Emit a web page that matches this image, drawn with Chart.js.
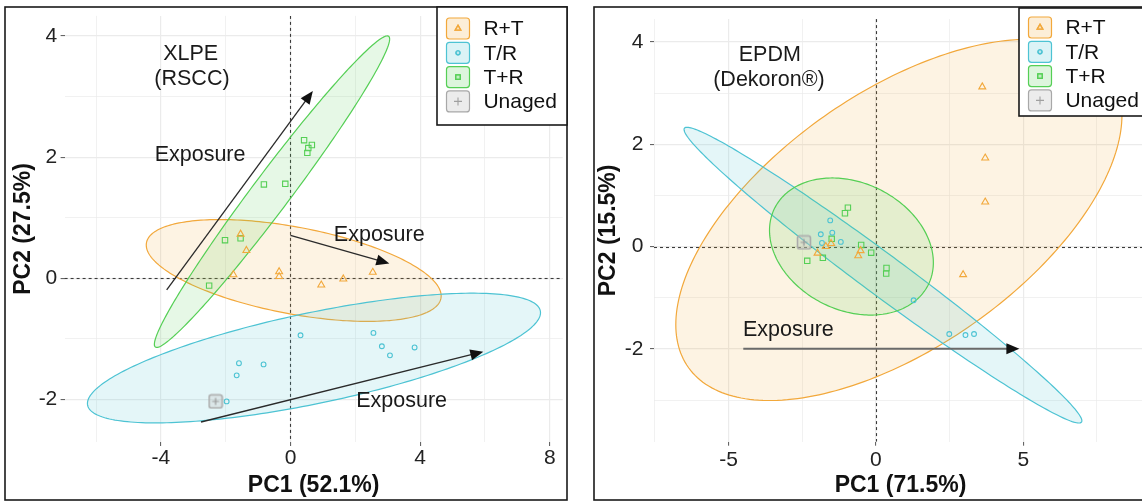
<!DOCTYPE html>
<html>
<head>
<meta charset="utf-8">
<script src="https://cdn.jsdelivr.net/npm/chart.js@4.4.1/dist/chart.umd.min.js"></script>
<style>
  html, body { margin: 0; padding: 0; background: #fff; overflow: hidden; width: 1142px; height: 502px; }
  canvas { position: absolute; top: 0; }
  #xlpe { left: 0; }
  #epdm { left: 588px; }
</style>
</head>
<body>
<canvas id="xlpe" width="572" height="502"></canvas>
<canvas id="epdm" width="572" height="502"></canvas>
<script>
// ---------- groups ----------
const GROUPS = ['R+T', 'T/R', 'T+R', 'Unaged'];

// ---------- XLPE (RSCC): PCA scores [PC1, PC2] ----------
const xlpeRT     = [[-1.54, 0.73], [-1.36, 0.46], [-1.76, 0.06], [-0.35, 0.11], [-0.35, 0.03], [0.95, -0.11], [1.63, -0.01], [2.54, 0.10]];
const xlpeTslR   = [[0.31, -0.94], [2.56, -0.90], [2.82, -1.12], [3.07, -1.27], [3.83, -1.14], [-1.59, -1.40], [-0.83, -1.42], [-1.66, -1.60], [-1.97, -2.03]];
const xlpeTR     = [[0.42, 2.28], [0.66, 2.20], [0.55, 2.15], [0.52, 2.07], [-0.82, 1.55], [-0.16, 1.56], [-2.02, 0.63], [-1.54, 0.66], [-2.51, -0.12]];
const xlpeUnaged = [[-2.31, -2.03]];
// concentration ellipses: [centre PC1, centre PC2, half-range PC1, half-range PC2, correlation]
const xlpeEllRT   = [0.10, 0.13, 4.55, 0.84, -0.50];
const xlpeEllTslR = [0.725, -1.315, 6.99, 1.07, 0.70];
const xlpeEllTR   = [-0.57, 1.43, 3.63, 2.57, 0.98];
// exposure arrows: [from PC1, from PC2, to PC1, to PC2]
const xlpeArrows = [[-3.82, -0.19, 0.69, 3.09], [0.0, 0.71, 3.05, 0.245], [-2.76, -2.37, 5.95, -1.21]];
const xlpeNotes  = [['XLPE', -3.08, 3.70], ['(RSCC)', -3.04, 3.29], ['Exposure', -2.79, 2.03], ['Exposure', 2.74, 0.72], ['Exposure', 3.43, -2.03]];
const xlpeXRange = [-6.97, 8.4];
const xlpeYRange = [-2.70, 4.33];

// ---------- EPDM (Dekoron®) ----------
const epdmRT     = [[3.61, 3.12], [3.71, 1.73], [3.71, 0.87], [2.96, -0.55], [-1.98, -0.13], [-1.70, 0.0], [-1.52, 0.06], [-0.60, -0.18], [-0.52, -0.08]];
const epdmTslR   = [[-1.55, 0.51], [-1.87, 0.24], [-1.48, 0.27], [-1.83, 0.07], [-1.19, 0.09], [1.28, -1.05], [2.49, -1.71], [3.04, -1.73], [3.33, -1.71]];
const epdmTR     = [[-0.95, 0.76], [-1.05, 0.65], [-1.50, 0.15], [-0.50, 0.03], [-0.16, -0.12], [-1.80, -0.22], [-2.33, -0.28], [0.36, -0.42], [0.35, -0.53]];
const epdmUnaged = [[-2.44, 0.08]];
const epdmEllRT   = [0.78, 0.52, 7.57, 3.53, 0.58];
const epdmEllTslR = [0.24, -0.56, 6.75, 2.89, -0.985];
const epdmEllTR   = [-0.83, 0.0, 2.78, 1.34, -0.235];
const epdmArrows = [[-4.5, -2.0, 4.87, -2.0]];
const epdmNotes  = [['EPDM', -3.60, 3.75], ['(Dekoron®)', -3.63, 3.25], ['Exposure', -2.97, -1.64]];
const epdmXRange = [-7.53, 9.2];
const epdmYRange = [-3.815, 4.445];

// ---------- styling ----------
const FONT = '"Liberation Sans", Arial, sans-serif';
const STYLE = {
  'R+T':    { line: '#F2A83B', fill: 'rgba(242,168,59,0.14)', key: 'rgba(242,168,59,0.20)', shape: 'triangle', r: 4 },
  'T/R':    { line: '#4DC3D3', fill: 'rgba(77,195,211,0.15)', key: 'rgba(77,195,211,0.20)', shape: 'circle', r: 2.4 },
  'T+R':    { line: '#55CF55', fill: 'rgba(85,207,85,0.15)',  key: 'rgba(85,207,85,0.20)',  shape: 'rect', r: 3.8 },
  'Unaged': { line: '#A8A8A8', fill: 'rgba(200,200,200,0.3)', key: 'rgba(200,200,200,0.35)', shape: null, r: 7 }
};

function unagedMarker() {
  const c = document.createElement('canvas');
  c.width = 16; c.height = 16;
  const g = c.getContext('2d');
  g.fillStyle = 'rgba(200,200,200,0.35)';
  g.strokeStyle = '#ABABAB';
  g.lineWidth = 1.6;
  g.beginPath(); g.roundRect(1.5, 1.5, 13, 13, 2); g.fill(); g.stroke();
  g.strokeStyle = '#9A9A9A'; g.lineWidth = 1.2;
  g.beginPath(); g.moveTo(8, 4.5); g.lineTo(8, 11.5); g.moveTo(4.5, 8); g.lineTo(11.5, 8); g.stroke();
  return c;
}
const UNAGED_IMG = unagedMarker();

function toPoints(arr) { return arr.map(p => ({ x: p[0], y: p[1] })); }

function makeDatasets(series) {
  return GROUPS.map((g, i) => {
    const s = STYLE[g];
    return {
      label: g,
      data: toPoints(series[i]),
      pointStyle: g === 'Unaged' ? UNAGED_IMG : s.shape,
      pointRadius: s.r,
      pointBorderWidth: 1.1,
      borderColor: s.line,
      backgroundColor: 'rgba(0,0,0,0)',
      showLine: false
    };
  });
}

// ---------- plugins ----------
function ellipsePath(ctx, xs, ys, e) {
  const [cx, cy, rx, ry, rho] = e;
  const s = Math.sqrt(1 - rho * rho);
  ctx.beginPath();
  for (let i = 0; i <= 240; i++) {
    const t = i / 240 * Math.PI * 2;
    const x = cx + rx * Math.cos(t);
    const y = cy + ry * (rho * Math.cos(t) + s * Math.sin(t));
    const px = xs.getPixelForValue(x), py = ys.getPixelForValue(y);
    if (i === 0) ctx.moveTo(px, py); else ctx.lineTo(px, py);
  }
  ctx.closePath();
}

const underlayPlugin = {
  id: 'underlay',
  beforeDatasetsDraw(chart, args, opts) {
    const { ctx, chartArea: a, scales: { x, y } } = chart;
    ctx.save();
    ctx.beginPath(); ctx.rect(a.left, a.top, a.right - a.left, a.bottom - a.top); ctx.clip();
    // zero reference lines
    ctx.strokeStyle = '#3a3a3a'; ctx.lineWidth = 1.1; ctx.setLineDash([3, 3]);
    const x0 = Math.round(x.getPixelForValue(0)) + 0.5, y0 = Math.round(y.getPixelForValue(0)) + 0.5;
    ctx.beginPath(); ctx.moveTo(x0, a.top); ctx.lineTo(x0, a.bottom); ctx.stroke();
    ctx.beginPath(); ctx.moveTo(a.left, y0); ctx.lineTo(a.right, y0); ctx.stroke();
    ctx.setLineDash([]);
    // concentration ellipses
    opts.ellipses.forEach(([g, e]) => {
      const s = STYLE[g];
      ellipsePath(ctx, x, y, e);
      ctx.fillStyle = s.fill; ctx.fill();
      ctx.strokeStyle = s.line; ctx.lineWidth = 1.2; ctx.stroke();
    });
    ctx.restore();
  }
};

const overlayPlugin = {
  id: 'overlay',
  afterDatasetsDraw(chart, args, opts) {
    const { ctx, scales: { x, y } } = chart;
    ctx.save();
    opts.arrows.forEach(a => {
      const x0 = x.getPixelForValue(a[0]), y0 = y.getPixelForValue(a[1]);
      const x1 = x.getPixelForValue(a[2]), y1 = y.getPixelForValue(a[3]);
      const ang = Math.atan2(y1 - y0, x1 - x0);
      const L = opts.headLength, W = opts.headWidth;
      ctx.strokeStyle = opts.lineColor; ctx.lineWidth = opts.lineWidth;
      ctx.beginPath(); ctx.moveTo(x0, y0);
      ctx.lineTo(x1 - Math.cos(ang) * L * 0.8, y1 - Math.sin(ang) * L * 0.8); ctx.stroke();
      ctx.fillStyle = opts.headColor;
      ctx.beginPath();
      ctx.moveTo(x1, y1);
      ctx.lineTo(x1 - Math.cos(ang) * L - Math.sin(ang) * W, y1 - Math.sin(ang) * L + Math.cos(ang) * W);
      ctx.lineTo(x1 - Math.cos(ang) * L + Math.sin(ang) * W, y1 - Math.sin(ang) * L - Math.cos(ang) * W);
      ctx.closePath(); ctx.fill();
    });
    ctx.fillStyle = '#1a1a1a';
    ctx.font = '21.5px ' + FONT;
    ctx.textAlign = 'center'; ctx.textBaseline = 'middle';
    opts.notes.forEach(([t, nx, ny]) => ctx.fillText(t, x.getPixelForValue(nx), y.getPixelForValue(ny)));
    ctx.restore();
  }
};

const frameLegendPlugin = {
  id: 'frameLegend',
  afterDraw(chart, args, opts) {
    const { ctx } = chart;
    ctx.save();
    // outer frame
    const f = opts.frame;
    ctx.strokeStyle = '#1a1a1a'; ctx.lineWidth = 1.6;
    ctx.strokeRect(f[0], f[1], f[2], f[3]);
    // legend box
    const b = opts.box;
    ctx.fillStyle = '#fff';
    ctx.fillRect(b[0], b[1], b[2], b[3]);
    ctx.strokeStyle = '#1a1a1a'; ctx.lineWidth = 1.6;
    ctx.strokeRect(b[0], b[1], b[2], b[3]);
    chart.data.datasets.forEach((ds, i) => {
      const s = STYLE[ds.label];
      const cy = b[1] + opts.firstRow + i * opts.rowGap;
      const kx = b[0] + 9.5, kw = 23, kh = 21;
      ctx.beginPath(); ctx.roundRect(kx, cy - kh / 2, kw, kh, 3);
      ctx.fillStyle = s.key; ctx.fill();
      ctx.strokeStyle = s.line; ctx.lineWidth = 1.2; ctx.stroke();
      const mx = kx + kw / 2;
      if (ds.label === 'Unaged') {
        ctx.strokeStyle = '#A0A0A0'; ctx.lineWidth = 1.1;
        ctx.beginPath(); ctx.moveTo(mx, cy - 4); ctx.lineTo(mx, cy + 4); ctx.moveTo(mx - 4, cy); ctx.lineTo(mx + 4, cy); ctx.stroke();
      } else {
        Chart.helpers.drawPoint(ctx, { pointStyle: s.shape, radius: s.r * 0.85, borderWidth: 1.1, rotation: 0 }, mx, cy);
        ctx.strokeStyle = s.line; ctx.lineWidth = 1.1; ctx.stroke();
      }
      ctx.fillStyle = '#111';
      ctx.font = '21px ' + FONT;
      ctx.textAlign = 'left'; ctx.textBaseline = 'middle';
      ctx.fillText(ds.label, b[0] + 46.4, cy + 1);
    });
    ctx.restore();
  }
};

// ---------- chart factory ----------
function buildChart(id, cfg) {
  const isMajor = (v, m) => Math.abs(v / m - Math.round(v / m)) < 1e-6;
  const axis = (range, step, labelEvery, titleText, titlePad, tickPad, afterFit) => ({
    type: 'linear',
    min: range[0], max: range[1],
    border: { display: false },
    grid: {
      color: '#EBEBEB',
      lineWidth: c => isMajor(c.tick.value, labelEvery) ? 1.2 : 0.7,
      tickLength: 4,
      tickWidth: 1,
      tickColor: c => isMajor(c.tick.value, labelEvery) ? '#555' : 'rgba(0,0,0,0)'
    },
    ticks: {
      stepSize: step, autoSkip: false, includeBounds: false, maxRotation: 0,
      padding: tickPad, color: '#222',
      font: { family: FONT, size: 21 },
      callback: v => isMajor(v, labelEvery) ? String(Math.round(v)) : ''
    },
    title: {
      display: true, text: titleText, color: '#111',
      font: { family: FONT, size: 23, weight: 'bold' },
      padding: titlePad
    },
    afterFit
  });

  return new Chart(document.getElementById(id), {
    type: 'scatter',
    data: { datasets: makeDatasets(cfg.series) },
    options: {
      responsive: false,
      animation: false,
      events: [],
      layout: { padding: cfg.padding },
      scales: {
        x: axis(cfg.xRange, cfg.xStep, cfg.xLabelEvery, cfg.xTitle, { top: 0, bottom: 3 }, cfg.xTickPad, s => { s.height = cfg.xAxisHeight; }),
        y: axis(cfg.yRange, 1, 2, cfg.yTitle, { top: cfg.yTitlePad, bottom: 0 }, cfg.yTickPad, s => { s.width = cfg.yAxisWidth; })
      },
      plugins: {
        legend: { display: false },
        tooltip: { enabled: false },
        underlay: { ellipses: cfg.ellipses },
        overlay: cfg.overlay,
        frameLegend: cfg.frameLegend
      }
    },
    plugins: [underlayPlugin, overlayPlugin, frameLegendPlugin]
  });
}

buildChart('xlpe', {
  series: [xlpeRT, xlpeTslR, xlpeTR, xlpeUnaged],
  xRange: xlpeXRange, yRange: xlpeYRange, xStep: 2, xLabelEvery: 4,
  xTitle: 'PC1 (52.1%)', yTitle: 'PC2 (27.5%)',
  padding: { left: 0, top: 12, right: 9.3, bottom: 0 },
  yAxisWidth: 64.6, xAxisHeight: 60, yTitlePad: 10.2, xTickPad: 0, yTickPad: 3.3,
  ellipses: [['R+T', xlpeEllRT], ['T/R', xlpeEllTslR], ['T+R', xlpeEllTR]],
  overlay: { arrows: xlpeArrows, notes: xlpeNotes, lineColor: '#2a2a2a', lineWidth: 1.3, headColor: '#111', headLength: 13, headWidth: 5.5 },
  frameLegend: { frame: [5, 7, 562, 493], box: [437, 7, 130, 118], firstRow: 21.5, rowGap: 24.3 }
});

buildChart('epdm', {
  series: [epdmRT, epdmTslR, epdmTR, epdmUnaged],
  xRange: epdmXRange, yRange: epdmYRange, xStep: 2.5, xLabelEvery: 5,
  xTitle: 'PC1 (71.5%)', yTitle: 'PC2 (15.5%)',
  padding: { left: 0, top: 13, right: 13, bottom: 0 },
  yAxisWidth: 66, xAxisHeight: 60.3, yTitlePad: 6.7, xTickPad: 1.7, yTickPad: 6.5,
  ellipses: [['R+T', epdmEllRT], ['T/R', epdmEllTslR], ['T+R', epdmEllTR]],
  overlay: { arrows: epdmArrows, notes: epdmNotes, lineColor: '#6a6a6a', lineWidth: 2, headColor: '#111', headLength: 13, headWidth: 5.5 },
  frameLegend: { frame: [6, 7, 580, 493], box: [431, 8, 150, 108], firstRow: 19.5, rowGap: 24.3 }
});
</script>
</body>
</html>
